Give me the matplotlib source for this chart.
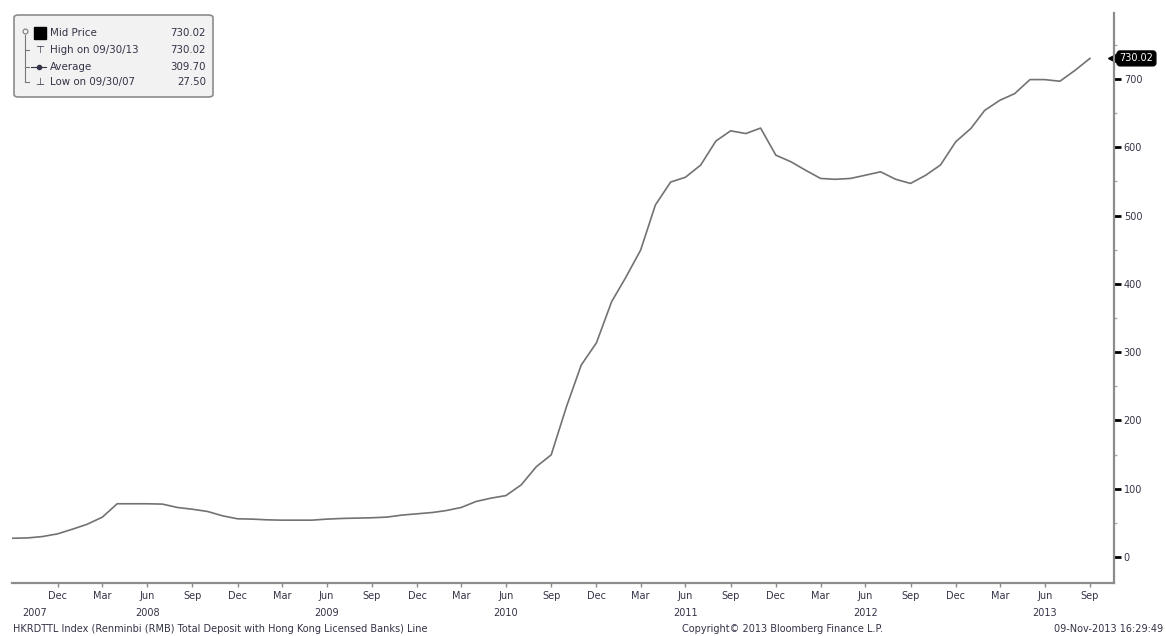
import pandas as pd
import matplotlib
matplotlib.use('Agg')
import matplotlib.pyplot as plt
from matplotlib.patches import FancyBboxPatch
from matplotlib.lines import Line2D
from matplotlib.ticker import MultipleLocator

# monthly RMB deposits in HK licensed banks (bn), Sep 2007 - Sep 2013
dates = pd.date_range('2007-09-30', '2013-09-30', freq='ME')
deposits = [
    27.5, 28.0, 30.0, 34.0,                      # 2007 Sep-Dec
    41.0, 48.0, 58.5, 78.0, 78.0, 78.0,          # 2008 Jan-Jun
    77.5, 72.5, 70.0, 66.7, 60.4, 56.0,          # 2008 Jul-Dec
    55.5, 54.5, 54.0, 54.0, 54.0, 55.5,          # 2009 Jan-Jun
    56.5, 57.0, 57.5, 58.5, 61.4, 63.3,          # 2009 Jul-Dec
    65.2, 68.0, 72.6, 81.3, 86.3, 90.0,          # 2010 Jan-Jun
    105.7, 132.5, 149.6, 220.0, 281.0, 313.6,    # 2010 Jul-Dec
    374.0, 408.5, 449.5, 515.5, 549.0, 556.0,    # 2011 Jan-Jun
    573.8, 609.0, 624.0, 620.0, 628.0, 588.4,    # 2011 Jul-Dec
    578.6, 566.5, 554.3, 553.0, 554.3, 559.0,    # 2012 Jan-Jun
    564.0, 553.0, 547.0, 559.0, 574.0, 608.0,    # 2012 Jul-Dec
    627.6, 654.0, 668.8, 678.5, 699.0, 699.0,    # 2013 Jan-Jun
    696.6, 712.7, 730.02,                        # 2013 Jul-Sep
]
legend_names = ['Mid Price', 'High on 09/30/13', 'Average', 'Low on 09/30/07']
legend_values = ['730.02', '730.02', '309.70', '27.50']
year_labels = ['2007', '2008', '2009', '2010', '2011', '2012', '2013']
year_pos = ['2007-11-15', '2008-06-30', '2009-06-30', '2010-06-30',
            '2011-06-30', '2012-06-30', '2013-06-30']

plt.rcParams['font.family'] = ['DejaVu Sans']
txt_col = '#333347'

fig = plt.figure(figsize=(11.66, 6.36), dpi=100)
ax = fig.add_axes([12 / 1166, 1 - 583 / 636, (1114 - 12) / 1166, (583 - 13) / 636])

ax.plot(dates, deposits, color='#727272', linewidth=1.2)

ax.set_xlim(pd.Timestamp('2007-09-29'), pd.Timestamp('2013-11-18'))

for s in ['left', 'top']:
    ax.spines[s].set_visible(False)
for s in ['right', 'bottom']:
    ax.spines[s].set_color('#8c8c8c')
    ax.spines[s].set_linewidth(1.6)

# y axis on the right
ax.yaxis.tick_right()
ax.yaxis.set_major_locator(MultipleLocator(100))
ax.yaxis.set_minor_locator(MultipleLocator(50))
ax.tick_params(axis='y', which='major', direction='out', length=5, width=2,
               color='black', labelsize=7, labelcolor=txt_col, pad=2)
ax.tick_params(axis='y', which='minor', direction='out', length=2, width=1,
               color='#aaaaaa')
ax.set_ylim(-38, 796.5)

# x axis: quarterly month labels
qticks = pd.date_range('2007-12-31', '2013-09-30', freq='3ME')
ax.set_xticks(qticks)
ax.set_xticklabels([d.strftime('%b') for d in qticks])
ax.tick_params(axis='x', direction='out', length=3, width=1, color='#8c8c8c',
               labelsize=7, labelcolor=txt_col, pad=3)

for lbl, pos in zip(year_labels, year_pos):
    ax.annotate(lbl, xy=(pd.Timestamp(pos), 0), xycoords=('data', 'axes fraction'),
                xytext=(0, -18), textcoords='offset points', ha='center', va='top',
                fontsize=7, color=txt_col)

# last value flag
last = deposits[-1]
ax.plot([1.0], [last], marker='<', markersize=9, color='black',
        transform=ax.get_yaxis_transform(), clip_on=False)
ax.annotate(f'{last:.2f}', xy=(1.0, last), xycoords=('axes fraction', 'data'),
            xytext=(4, 0), textcoords='offset points', ha='left', va='center',
            fontsize=7, color='white',
            bbox=dict(boxstyle='round,pad=0.25,rounding_size=0.3', fc='black', ec='black'))

# legend box
fig.patches.append(FancyBboxPatch((14 / 1166, 1 - 97 / 636), 199 / 1166, 82 / 636,
                                  boxstyle='round,pad=0,rounding_size=0.004',
                                  transform=fig.transFigure, fc='#f2f2f2',
                                  ec='#8c8c8c', lw=1.2))
rows_y = [33, 50, 66.5, 82]
fy = lambda y: 1 - y / 636
fx = lambda x: x / 1166
for name, val, y in zip(legend_names, legend_values, rows_y):
    fig.text(fx(50), fy(y), name, fontsize=7.4, color=txt_col, va='center', ha='left')
    fig.text(fx(206), fy(y), val, fontsize=7.4, color=txt_col, va='center', ha='right')

# legend icons
fig.add_artist(Line2D([fx(25), fx(25)], [fy(35), fy(82)], color='#777777', lw=0.8))
for y in rows_y[1:]:
    fig.add_artist(Line2D([fx(25), fx(29)], [fy(y), fy(y)], color='#777777', lw=0.8))
fig.add_artist(Line2D([fx(25)], [fy(31)], marker='o', ms=3.5, mfc='none',
                      mec='#777777', mew=0.8))
fig.add_artist(Line2D([fx(40)], [fy(33)], marker='s', ms=8, color='black'))
fig.text(fx(40), fy(50), '\u22a4', fontsize=7.5, color=txt_col, ha='center', va='center')
fig.add_artist(Line2D([fx(31), fx(46)], [fy(66.5), fy(66.5)], color=txt_col, lw=0.8))
fig.add_artist(Line2D([fx(38.5)], [fy(66.5)], marker='o', ms=3, color=txt_col))
fig.text(fx(40), fy(82), '\u22a5', fontsize=7.5, color=txt_col, ha='center', va='center')

# footer
fig.text(fx(13), fy(629), 'HKRDTTL Index (Renminbi (RMB) Total Deposit with Hong Kong Licensed Banks) Line',
         fontsize=7, color=txt_col, va='center', ha='left')
fig.text(fx(782), fy(629), 'Copyright\u00a9 2013 Bloomberg Finance L.P.',
         fontsize=7, color=txt_col, va='center', ha='center')
fig.text(fx(1163), fy(629), '09-Nov-2013 16:29:49',
         fontsize=7, color=txt_col, va='center', ha='right')

fig.savefig('out.png', dpi=100, facecolor='white')
